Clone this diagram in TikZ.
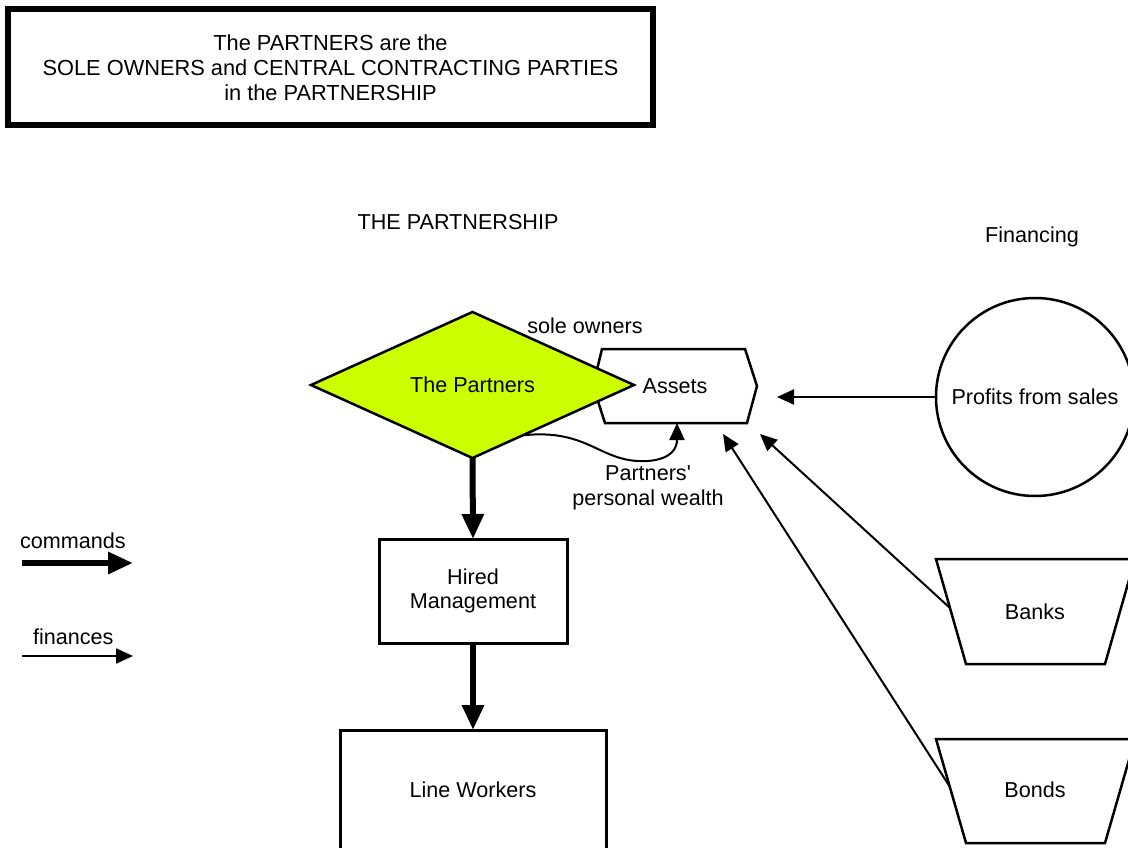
\documentclass[tikz,border=0pt]{standalone}
\usepackage{fontspec}
\setmainfont{Liberation Sans}
\usetikzlibrary{arrows.meta,shapes.geometric,calc}
\definecolor{partnergreen}{RGB}{204,255,0}

\begin{document}
\begin{tikzpicture}[x=1pt,y=-1pt,
  every node/.style={font=\fontsize{21.6}{24.5}\selectfont, inner sep=0pt, outer sep=0pt},
  boxed/.style={draw, line width=3pt, rectangle, align=center},
  cmdarrow/.style={line width=6pt, -{Triangle[length=25pt,width=21pt]}},
  finarrow/.style={line width=2pt, -{Triangle[length=17pt,width=15pt]}},
  plain/.style={align=center}]

\useasboundingbox (0,0) rectangle (1128,848);
\clip (0,0) rectangle (1128,848);

% headline box
\node[draw, line width=6pt, minimum width=645pt, minimum height=116pt, align=center,
      font=\fontsize{21.8}{25}\selectfont]
  (headline) at (330.5,67.5) {The PARTNERS are the\\SOLE OWNERS and CENTRAL CONTRACTING PARTIES\\in the PARTNERSHIP};

% column titles
\node[plain] (title) at (458,222) {THE PARTNERSHIP};
\node[plain] (fintitle) at (1032,237) {Financing};

% assets (hexagon drawn around a text node)
\node[minimum width=150pt, minimum height=74pt] (assets) at (675,386) {Assets};
\draw[line width=2.5pt, line join=miter]
  (602,349) -- (745,349) -- (757,386) -- (747,423) -- (605,423) -- (593,386) -- cycle;

% the partners
\node[diamond, draw, fill=partnergreen, line width=2.5pt,
      minimum width=323pt, minimum height=146pt] (partners) at (472.5,385) {The Partners};
\node[plain] (sole) at (585,326) {sole owners};

% management chain
\node[boxed, minimum width=188pt, minimum height=104pt] (hired) at (473,591) {Hired\\Management};
\node[draw, line width=3pt, minimum width=266pt, minimum height=140pt] (workers) at (473,800) {};
\node[plain] (workerstext) at (473,790) {Line Workers};

\draw[cmdarrow] (partners.south) -- (hired.north);
\draw[cmdarrow] (hired.south) -- (workers.north);

% personal wealth flowing into assets
\coordinate (pw) at ($(partners.south)!0.31!(partners.east)$);
\coordinate (assetsbottom) at (677,423);
\draw[line width=2pt, -{Triangle[length=17pt,width=15pt]}]
  (pw) .. controls (590,428) and (600,464) .. (648,461)
       .. controls (672,459) and (677,448) .. (assetsbottom);
\node[plain] (wealth) at (648,488) {Partners\textquotesingle\\personal wealth};

% financing sources
\node[circle, draw, line width=2.5pt, minimum size=198pt] (profits) at (1035,397) {Profits from sales};

\draw[line width=2.5pt] (936,559) -- (1135,559) -- (1105,664) -- (966,664) -- cycle;
\node[plain] (banks) at (1035,612) {Banks};
\draw[line width=2.5pt] (936,739) -- (1135,739) -- (1105,843) -- (966,843) -- cycle;
\node[plain] (bonds) at (1035,790) {Bonds};

\coordinate (banksedge) at (950,608);
\coordinate (bondsedge) at (950,787);
\coordinate (fromprofits) at (777,397);
\coordinate (frombanks) at (760,434);
\coordinate (frombonds) at (723,434);

\draw[finarrow] (profits.west) -- (fromprofits);
\draw[finarrow] (banksedge) -- (frombanks);
\draw[finarrow] (bondsedge) -- (frombonds);

% legend
\node[anchor=west] (cmdlabel) at (20,541) {commands};
\coordinate (cmdstart) at (22,563);
\coordinate (cmdend) at (133,563);
\draw[cmdarrow] (cmdstart) -- (cmdend);
\node[anchor=west] (finlabel) at (33,637) {finances};
\coordinate (finstart) at (22,656);
\coordinate (finend) at (133,656);
\draw[finarrow] (finstart) -- (finend);

\end{tikzpicture}
\end{document}
